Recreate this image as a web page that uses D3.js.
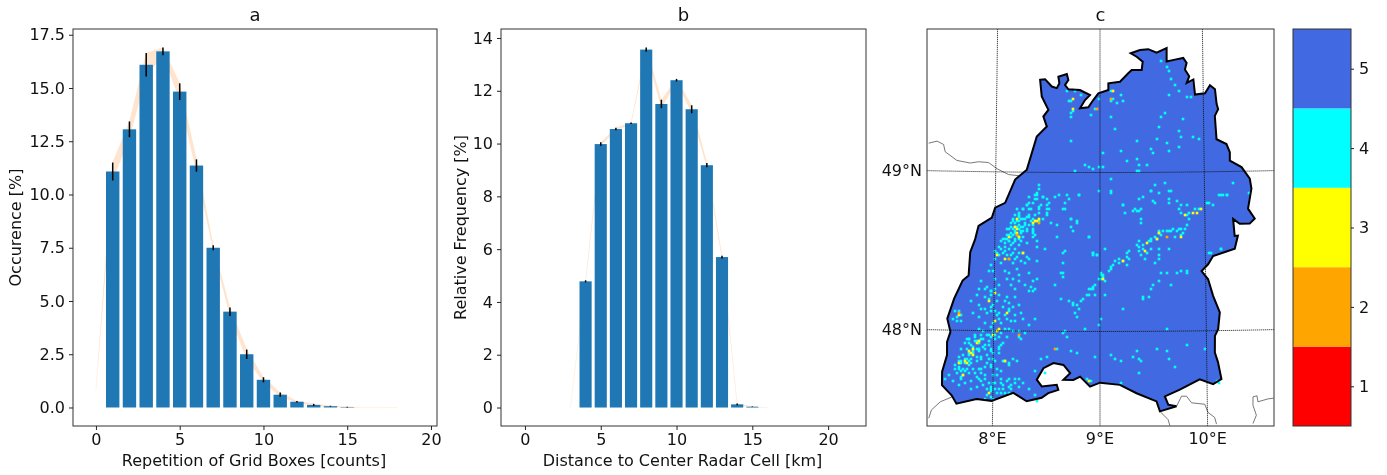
<!DOCTYPE html>
<html><head><meta charset="utf-8">
<script src="https://cdn.jsdelivr.net/npm/d3@7/dist/d3.min.js"></script>
<style>
html,body{margin:0;padding:0;background:#fff;overflow:hidden}
svg{display:block;filter:blur(0.4px)}
text{font-family:"DejaVu Sans",sans-serif;fill:#111}
</style></head><body><svg id="c" width="1387" height="475"></svg>
<script>
// ---- panel a ----
const repCounts=[1,2,3,4,5,6,7,8,9,10,11,12,13,14,15];
const repValues=[11.08,13.06,16.09,16.72,14.83,11.36,7.5,4.5,2.5,1.3,0.6,0.27,0.12,0.06,0.02];
const repErrors=[0.42,0.37,0.55,0.18,0.39,0.29,0.12,0.2,0.22,0.12,0.1,0.04,0.05,0.02,0.02];
const repBandX=[0,1,2,3,4,5,6,7,8,9,10,11,12,13,14,15,16,17,18];
const repBandV=[0.8,11.08,13.06,16.09,16.72,14.83,11.36,7.5,4.5,2.5,1.3,0.6,0.27,0.12,0.06,0.02,0.01,0.005,0];
const repBandE=[0,0.42,0.37,0.55,0.18,0.39,0.29,0.12,0.2,0.22,0.12,0.1,0.04,0.05,0.02,0.02,0,0,0];
const repXTicks=[0,5,10,15,20];
const repYTicks=[0,2.5,5,7.5,10,12.5,15,17.5];
// ---- panel b ----
const distKm=[4,5,6,7,8,9,10,11,12,13,14,15];
const distValues=[4.78,9.98,10.55,10.77,13.56,11.5,12.4,11.3,9.18,5.7,0.12,0.03];
const distErrors=[0.04,0.07,0.05,0.03,0.08,0.16,0.05,0.15,0.08,0.05,0.03,0.01];
const distBandX=[3,4,5,6,7,8,9,10,11,12,13,14,15,16];
const distBandV=[0,4.78,9.98,10.55,10.77,13.56,11.5,12.4,11.3,9.18,5.7,0.12,0.03,0];
const distBandE=[0,0.04,0.07,0.05,0.03,0.08,0.16,0.05,0.15,0.08,0.05,0.03,0.01,0];
const distXTicks=[0,5,10,15,20];
const distYTicks=[0,2,4,6,8,10,12,14];
// ---- panel c : state outline [lon,lat] ----
const stateOutline=[[8.419,49.582],[8.467,49.586],[8.533,49.540],[8.581,49.530],[8.606,49.561],[8.596,49.602],[8.678,49.619],[8.693,49.582],[8.661,49.550],[8.694,49.523],[8.806,49.519],[8.903,49.487],[8.855,49.456],[8.807,49.404],[8.887,49.410],[8.935,49.456],[8.984,49.498],[9.081,49.519],[9.081,49.561],[9.194,49.571],[9.274,49.624],[9.308,49.645],[9.405,49.645],[9.415,49.697],[9.357,49.728],[9.299,49.750],[9.389,49.770],[9.470,49.775],[9.551,49.753],[9.649,49.781],[9.648,49.697],[9.729,49.708],[9.810,49.718],[9.842,49.687],[9.825,49.645],[9.866,49.602],[9.841,49.561],[9.906,49.582],[9.920,49.487],[10.017,49.494],[10.066,49.544],[10.114,49.519],[10.128,49.425],[10.142,49.393],[10.109,49.351],[10.122,49.204],[10.217,49.173],[10.248,49.121],[10.247,49.068],[10.358,49.026],[10.435,48.953],[10.449,48.890],[10.413,48.764],[10.475,48.701],[10.426,48.670],[10.331,48.670],[10.269,48.701],[10.281,48.594],[10.312,48.596],[10.280,48.513],[10.073,48.470],[10.025,48.418],[9.962,48.376],[10.023,48.324],[10.068,48.219],[10.129,48.114],[10.111,48.009],[10.080,47.967],[10.077,47.863],[10.105,47.802],[10.135,47.695],[10.057,47.664],[9.932,47.695],[9.745,47.632],[9.605,47.590],[9.636,47.538],[9.713,47.527],[9.558,47.496],[9.527,47.559],[9.341,47.611],[9.186,47.664],[9.000,47.678],[8.907,47.653],[8.814,47.716],[8.751,47.695],[8.658,47.695],[8.721,47.737],[8.658,47.789],[8.564,47.800],[8.471,47.768],[8.409,47.695],[8.456,47.653],[8.596,47.664],[8.611,47.632],[8.517,47.611],[8.456,47.582],[8.316,47.559],[8.191,47.611],[7.989,47.559],[7.849,47.569],[7.662,47.538],[7.616,47.590],[7.524,47.653],[7.523,47.737],[7.566,47.842],[7.564,47.926],[7.594,47.989],[7.562,48.072],[7.623,48.198],[7.700,48.313],[7.756,48.345],[7.768,48.492],[7.813,48.575],[7.843,48.659],[7.969,48.712],[7.999,48.775],[8.094,48.806],[8.187,48.953],[8.298,49.016],[8.391,49.225],[8.487,49.288],[8.453,49.351],[8.501,49.393],[8.436,49.477],[8.419,49.582]];
const borderNW=[[7.351,49.173],[7.432,49.187],[7.495,49.167],[7.512,49.121],[7.626,49.068],[7.754,49.053],[7.834,49.062],[7.930,49.058],[8.011,49.020],[8.123,48.984],[8.266,48.974]];
const borderSW=[[7.407,47.443],[7.431,47.496],[7.512,47.548],[7.620,47.580]];
const borderS1=[[9.558,47.496],[9.634,47.443],[9.649,47.406]];
const borderS2=[[9.713,47.527],[9.760,47.590],[9.807,47.590],[9.853,47.548],[9.976,47.538],[10.006,47.486],[10.067,47.454],[10.083,47.412]];
const borderS3=[[10.422,47.412],[10.455,47.464],[10.425,47.527],[10.427,47.580],[10.464,47.586],[10.472,47.548],[10.566,47.565],[10.619,47.569]];
const meridians=[8,9,10];
const parallels=[48,49];
const lonLabels=["8°E","9°E","10°E"];
const latLabels=["48°N","49°N"];
// grid cells [column,row] holding each count
const cells4=[[56,78],[56,80],[55,82],[51,84],[54,83],[58,84],[60,85],[64,84],[66,83],[55,85],[53,87],[57,88],[61,87],[50,88],[48,90],[52,90],[56,90],[60,90],[45,90],[46,93],
[70,83],[76,83],[71,85],[69,90],[72,95],[75,96],[62,97],[65,98],[72,99],[81,104],[65,104],[59,110],[68,112],[83,112],[85,113],[68,117],[67,122],[87,123],[64,128],[83,130],
[43,95],[45,96],[46,94],[48,95],[50,94],[51,93],[53,95],[60,93],[58,95],[56,96],[54,96],[42,97],[46,98],[49,97],[47,99],[51,98],[53,100],[53,102],[53,104],[55,106],[55,109],[41,100],[43,100],[46,100],[48,101],[50,100],[40,103],[42,104],[44,105],[47,106],[50,107],[38,105],[41,106],[43,107],[46,108],[36,109],[39,109],[41,110],[34,111],[36,113],[38,112],[42,113],[46,112],[44,110],[48,112],[50,114],[51,115],[55,116],[47,116],[34,115],[32,118],[37,117],[41,115],[43,117],[45,120],[49,117],[31,121],[33,121],[39,121],[41,122],[43,125],[46,123],[51,122],[55,125],[53,126],[52,129],[54,130],[51,131],[49,128],[46,126],[42,128],[44,130],[40,125],[34,125],[36,128],[27,126],[30,129],[26,130],[29,130],[32,131],
[44,97],[45,99],[44,101],[42,102],[43,103],[45,103],[46,104],[47,102],[48,99],[44,99],[40,105],[39,107],[42,108],[37,110],[35,112],[39,111],[40,113],[43,112],[45,114],[44,115],
[46,96],[47,101],[44,102],[41,103],[40,100],[42,99],[43,96],[44,93],[46,92],[48,90],[50,88],[51,87],[51,90],[54,93],[56,92],[60,92],[61,90],[56,89],[54,85],[55,83],[58,84],[60,88],[53,98],[53,101],[54,103],[52,96],[49,98],[50,101],[48,104],[39,105],[37,106],[41,106],[44,106],[46,105],[47,95],[49,95],[51,94],
[25,133],[22,136],[26,138],[36,133],[40,134],[44,134],[53,131],[46,138],[41,137],[38,139],[29,134],[31,135],[32,141],[30,142],[27,140],[26,144],[23,142],[36,142],[40,145],[41,141],[44,146],[48,145],[51,148],[54,145],[32,149],[29,147],[26,150],[28,151],[24,153],[21,155],[20,155],[22,158],[25,156],[27,155],[31,153],[33,151],[37,152],[39,150],[41,150],[34,155],[31,158],[28,159],[26,160],[23,162],[21,163],[19,165],[17,166],[16,166],[14,168],[16,170],[19,171],[21,168],[25,166],[27,165],[30,163],[32,161],[36,159],[38,157],[40,154],[43,151],[46,154],[47,155],[15,172],[17,175],[11,173],[9,175],[13,176],[16,178],[19,177],[22,176],[24,172],[27,170],[29,169],[32,168],[34,166],[22,180],[25,179],[27,176],[29,173],[33,173],[35,170],[30,180],[32,179],[36,180],[38,178],[41,179],[44,177],[46,175],[48,177],[41,175],[37,175],[39,182],[35,182],[32,181],[30,183],[29,185],[33,185],[39,166],[43,165],[45,166],[54,171],[57,165],[60,164],[54,183],[59,172],[51,180],[41,168],[36,162],[14,141],[16,141],[17,143],[15,144],[13,145],[17,146],[15,146],
[16,169],[17,167],[19,167],[21,166],[22,167],[14,170],[17,171],[18,170],[20,170],[18,173],[17,174],[21,172],[23,170],[26,170],[27,172],[25,174],[26,175],[29,175],[31,177],[28,178],[33,177],[18,163],[20,160],[21,162],[23,161],[25,160],[23,159],[26,157],[21,157],[24,156],[26,156],[28,155],[29,158],[31,156],[32,154],[34,153],[36,154],[30,153],[27,153],[24,154],[21,155],[32,160],[29,160],[26,161],[27,164],[25,164],[22,165],[20,165],[33,162],[33,165],[31,165],[30,167],[32,169],[36,160],[37,158],[38,166],[41,167],[37,171],[35,173],[16,164],[17,160],[19,157],
[32,180],[34,177],[37,177],[40,176],[42,178],[44,175],[46,179],[38,180],[42,180],[34,180],[32,184],[37,182],[41,182],
[34,141],[35,143],[36,145],[33,147],[37,147],[39,143],[41,140],[43,139],[39,136],[35,136],[33,138],[32,139],[29,140],[44,143],[47,142],[42,146],[46,151],[49,152],[32,133],[32,131],[34,130],
[127,92],[130,93],[131,92],[134,90],[136,90],[131,95],[127,88],[130,88],[141,87],[143,88],[146,83],[148,83],[150,83],[130,98],[127,100],[125,101],[123,100],[121,101],[118,101],[124,104],[128,102],[116,102],[115,105],[112,105],[111,106],[106,106],[105,108],[108,108],[106,111],[109,115],[112,110],[116,110],[121,110],[114,117],[116,115],[110,112],[107,113],[101,111],[100,114],[98,116],[94,116],[96,115],[100,118],[92,119],[91,121],[88,123],[87,125],[89,126],[86,125],[83,129],[81,130],[81,133],[84,133],[80,133],[73,137],[75,138],[76,140],[71,136],[83,113],[85,113],[83,112],
[87,122],[88,124],[84,128],[82,130],[92,120],[93,118],[96,117],[100,112],[101,115],[106,109],[108,110],[112,106],[114,104],[116,101],[117,103],[120,101],[122,101],[126,100],[129,100],[127,103],
[107,90],[105,91],[104,90],[98,88],[99,92],[107,97],[107,95],[114,87],[121,87],[125,86],[112,81],[116,82],[121,81],[108,84],[92,82],[76,83],[69,87],[68,90],[72,95],[75,97],[73,101],[81,104],[68,124],[69,111],[89,110],[116,113],[120,122],[127,121],[130,122],[116,126],[113,128],[122,128],[112,130],[108,134],[111,134],[147,110],[141,112],[89,133],[78,135],
[72,36],[71,36],[73,41],[72,42],[72,44],[70,31],[74,31],[77,33],[86,35],[92,31],[93,35],[92,36],[97,33],[98,36],[95,37],[84,40],[82,43],[92,44],[120,19],[121,21],[122,25],[124,28],[126,31],[130,34],[132,34],[117,16],[121,33],[119,42],[117,44],[128,45],[116,49],[126,51],[133,54],[127,54],[115,55],[136,55],[120,57],[112,60],[113,62],[126,59],[121,61],[105,56],[97,61],[88,62],[72,56],[94,50],[105,65],[106,68],[100,66],[110,68],[79,68],[81,69],[83,70],[86,69],[88,69],[74,71],[105,71],[106,71],[92,75],[86,81],[92,81],[119,77],[122,81],[114,78],[112,81],[106,85],[98,88],[103,91],[106,91],[147,83],[140,87],[150,83],[153,77],[161,82],[113,86],[121,85],[126,90],
[68,152],[70,154],[69,151],[65,160],[75,162],[72,161],[84,164],[92,163],[94,165],[97,166],[105,161],[103,164],[106,165],[107,166],[120,161],[121,165],[115,160],[124,169],[106,172],[97,177],[82,176],[80,175],[74,142],[75,144],[73,138],[77,136],[79,150],[86,148],[87,145],[68,122],[67,135],[98,140],[108,135],[125,122],[130,121],[117,122],[142,112],[147,110],[145,176],[146,177],[130,158],[139,160],[120,150],[55,186]];
const cells3=[[45,95],[45,102],[46,104],[41,104],[54,96],[55,96],[56,95],[48,112],[39,115],[35,113],[34,132],[53,97],[45,100],[44,99],[31,136],[34,146],[36,150],[33,153],[40,142],[25,157],[22,162],[19,166],[16,167],[18,173],[31,182],[39,166],[26,156],[16,143],[35,151],[23,163],[21,161],[23,160],[20,167],[129,93],[133,92],[135,92],[137,90],[116,102],[109,111],[115,105],[110,107],[127,104],[98,116],[88,125],[73,40],[73,35],[93,31],[81,176]];
const cells2=[[45,103],[56,97],[41,115],[46,153],[16,142],[64,160],[120,104],[92,35],[85,40]];
const colorValues=[1,2,3,4,5];
const colorList=["#ff0000","#ffa500","#ffff00","#00ffff","#4169e1"];

const svg=d3.select("#c");
const FS=16;
function frame(g,x0,x1,y0,y1){g.append("rect").attr("x",x0).attr("y",y0).attr("width",x1-x0).attr("height",y1-y0).attr("fill","none").attr("stroke","#333").attr("stroke-width",1);}
function styleAxis(a){a.selectAll("text").style("font-size",FS+"px").attr("fill","#111");a.selectAll("line").attr("stroke","#222");a.select(".domain").remove();}
function barPanel(opts){
  const {x0,x1,y0,y1,xs,ys,ks,vs,es,bx,bv,be,xt,yt,yf,title,xl,yl,ylx}=opts;
  const g=svg.append("g");
  const band=d3.area().x((d,i)=>xs(bx[i])).y0((d,i)=>ys(bv[i]-be[i])).y1((d,i)=>ys(bv[i]+be[i]));
  g.append("path").attr("d",band(bx)).attr("fill","#ff7f0e").attr("fill-opacity",0.2).attr("stroke","#ff7f0e").attr("stroke-opacity",0.07).attr("stroke-width",0.7);
  const w=xs(0.8)-xs(0);
  g.selectAll("rect.bar").data(ks).join("rect").attr("class","bar").attr("x",d=>xs(d)-w/2).attr("width",w).attr("y",(d,i)=>ys(vs[i])).attr("height",(d,i)=>ys(0)-ys(vs[i])).attr("fill","#1f77b4");
  g.selectAll("line.err").data(ks).join("line").attr("class","err").attr("x1",d=>xs(d)).attr("x2",d=>xs(d)).attr("y1",(d,i)=>ys(vs[i]-es[i])).attr("y2",(d,i)=>ys(vs[i]+es[i])).attr("stroke","#000").attr("stroke-width",1.5);
  frame(g,x0,x1,y0,y1);
  g.append("g").attr("transform",`translate(0,${y1})`).call(d3.axisBottom(xs).tickValues(xt).tickSize(4).tickPadding(4)).call(styleAxis);
  g.append("g").attr("transform",`translate(${x0},0)`).call(d3.axisLeft(ys).tickValues(yt).tickFormat(yf).tickSize(4).tickPadding(4)).call(styleAxis);
  g.append("text").attr("x",(x0+x1)/2).attr("y",21).attr("text-anchor","middle").style("font-size","18px").text(title);
  g.append("text").attr("x",(x0+x1)/2-1).attr("y",466).attr("text-anchor","middle").style("font-size","16px").text(xl);
  g.append("text").attr("transform",`translate(${ylx},${(y0+y1)/2}) rotate(-90)`).attr("text-anchor","middle").style("font-size","16px").text(yl);
}
barPanel({x0:73,x1:437,y0:29,y1:426,
  xs:d3.scaleLinear().domain([-1.37,20.36]).range([73,437]),
  ys:d3.scaleLinear().domain([-0.869,17.77]).range([426,29]),
  ks:repCounts,vs:repValues,es:repErrors,bx:repBandX,bv:repBandV,be:repBandE,xt:repXTicks,yt:repYTicks,yf:d3.format(".1f"),
  title:"a",xl:"Repetition of Grid Boxes [counts]",yl:"Occurence [%]",ylx:21});
barPanel({x0:501,x1:866,y0:29,y1:426,
  xs:d3.scaleLinear().domain([-1.58,22.5]).range([501,866]),
  ys:d3.scaleLinear().domain([-0.70,14.34]).range([426,29]),
  ks:distKm,vs:distValues,es:distErrors,bx:distBandX,bv:distBandV,be:distBandE,xt:distXTicks,yt:distYTicks,yf:d3.format("d"),
  title:"b",xl:"Distance to Center Radar Cell [km]",yl:"Relative Frequency [%]",ylx:466});

// ---- map ----
const mx0=927,mx1=1274,my0=29,my1=426;
svg.append("clipPath").attr("id","mapclip").append("rect").attr("x",mx0).attr("y",my0).attr("width",mx1-mx0).attr("height",my1-my0);
const proj=d3.geoConicConformal().parallels([47,50]).rotate([-9,0]).center([0,48.5]).scale(9110).translate([1100,252]);
const geo=d3.geoPath(proj);
const m=svg.append("g").attr("clip-path","url(#mapclip)");
[borderNW,borderSW,borderS1,borderS2,borderS3].forEach(b=>{
  m.append("path").datum({type:"LineString",coordinates:b}).attr("d",geo).attr("fill","none").attr("stroke","#555").attr("stroke-width",0.8);
});
const statePoly={type:"Polygon",coordinates:[stateOutline]};
m.append("path").datum(statePoly).attr("d",geo).attr("fill",colorList[4]);
const colX=d3.scaleLinear().domain([0,173.5]).range([mx0,mx1]);
const rowY=d3.scaleLinear().domain([0,198.5]).range([my0,my1]);
const cs=2.6;
[[cells4,colorList[3]],[cells3,colorList[2]],[cells2,colorList[1]]].forEach(([cells,col])=>{
  m.append("g").selectAll("rect").data(cells).join("rect")
   .attr("x",d=>colX(d[0])-cs/2).attr("y",d=>rowY(d[1])-cs/2).attr("width",cs).attr("height",cs).attr("fill",col);
});
m.append("path").datum(statePoly).attr("d",geo).attr("fill","none").attr("stroke","#000").attr("stroke-width",2);
const gridLine=l=>l.attr("d",geo).attr("fill","none").attr("stroke","#111").attr("stroke-width",1).attr("stroke-dasharray","1 1");
meridians.forEach(l=>{ m.append("path").datum({type:"LineString",coordinates:[[l,47],[l,50.2]]}).call(gridLine); });
parallels.forEach(l=>{ m.append("path").datum({type:"LineString",coordinates:d3.range(7,11.01,0.25).map(v=>[v,l])}).call(gridLine); });
frame(svg,mx0,mx1,my0,my1);
svg.append("text").attr("x",(mx0+mx1)/2).attr("y",21).attr("text-anchor","middle").style("font-size","18px").text("c");
meridians.forEach((l,i)=>{
  const px=proj([l,47.39])[0];
  svg.append("text").attr("x",px).attr("y",444).attr("text-anchor","middle").style("font-size",FS+"px").text(lonLabels[i]);
});
parallels.forEach((l,i)=>{
  svg.append("text").attr("x",922).attr("y",proj([7.35,l])[1]+5).attr("text-anchor","end").style("font-size",FS+"px").text(latLabels[i]);
});

// ---- colour bar ----
const cbY=d3.scaleLinear().domain([0.5,5.5]).range([426,29]);
const cb=svg.append("g");
cb.selectAll("rect").data(colorValues).join("rect").attr("x",1293).attr("width",58)
  .attr("y",d=>cbY(d+0.5)).attr("height",d=>cbY(d-0.5)-cbY(d+0.5)).attr("fill",(d,i)=>colorList[i]);
frame(cb,1293,1351,29,426);
cb.append("g").attr("transform","translate(1351,0)").call(d3.axisRight(cbY).tickValues(colorValues).tickFormat(d3.format("d")).tickSize(3).tickPadding(5)).call(styleAxis);
</script></body></html>
